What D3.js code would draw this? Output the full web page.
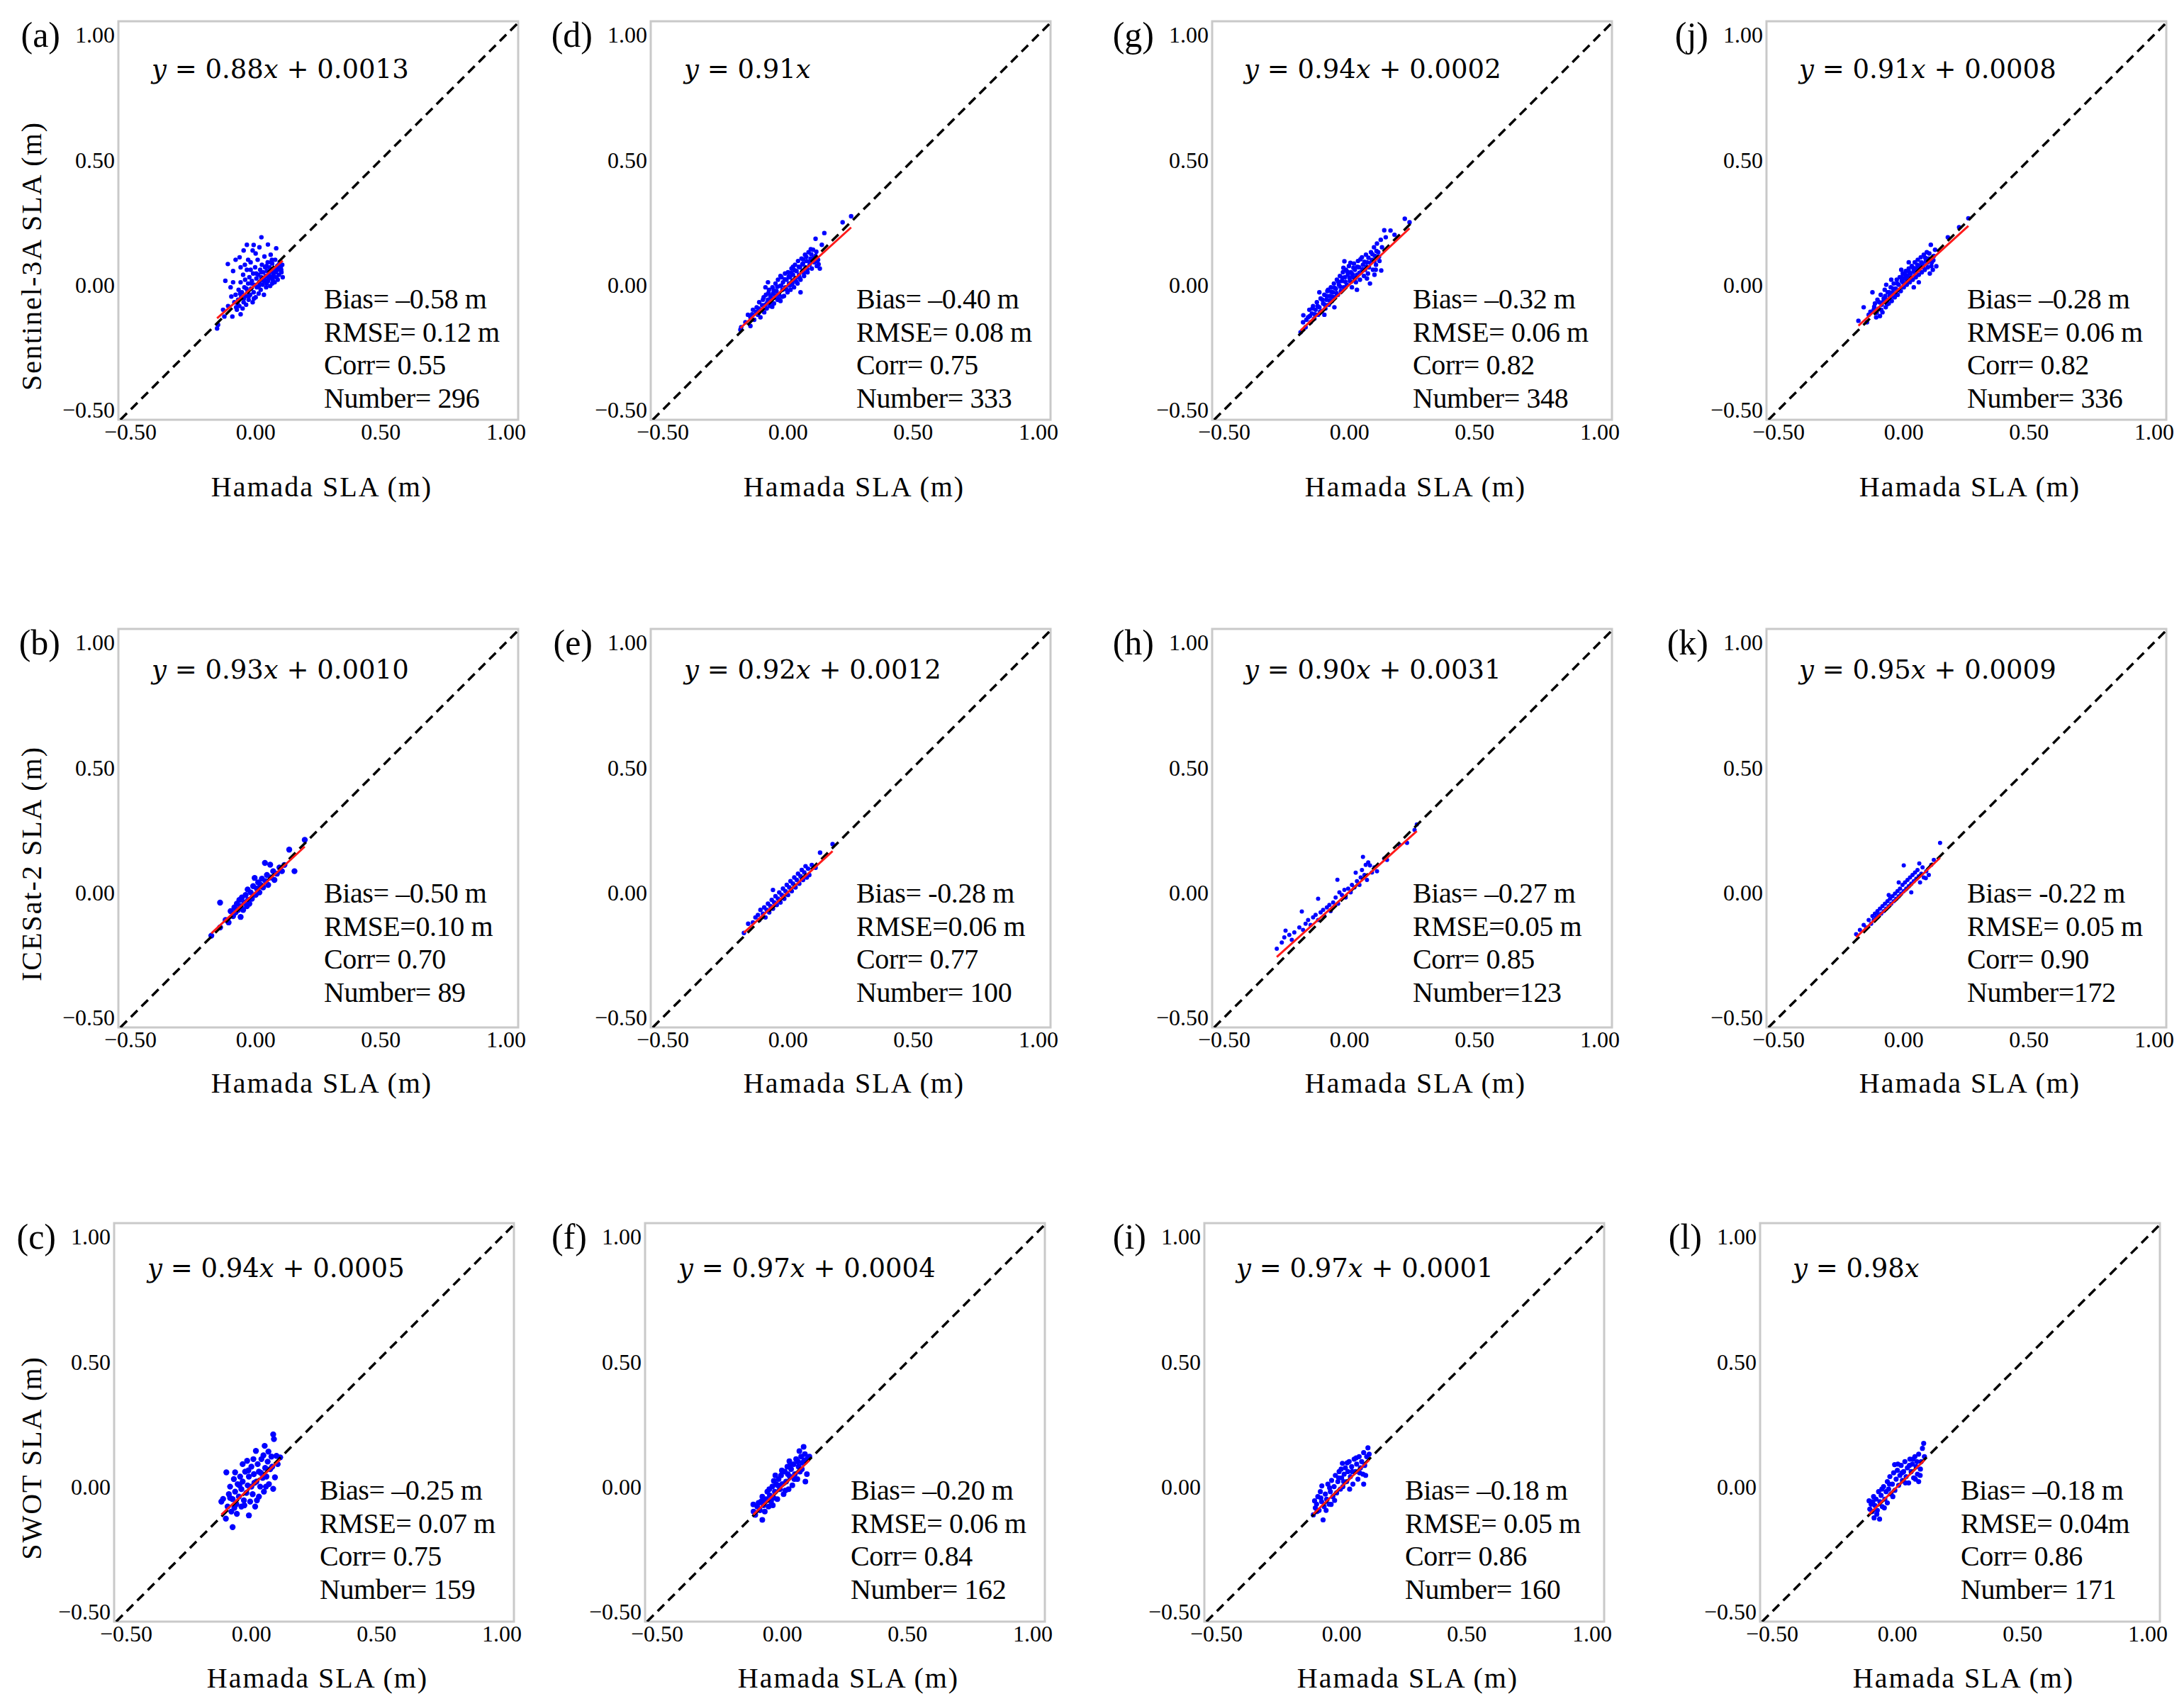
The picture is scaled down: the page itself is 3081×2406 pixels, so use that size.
<!DOCTYPE html>
<html>
<head>
<meta charset="utf-8">
<script src="https://cdn.jsdelivr.net/npm/d3@7"></script>
<style>
  body { margin: 0; background: #fff; }
  svg { display: block; }
</style>
</head>
<body>
<div id="graph_box"></div>
<script>
// panels are ordered a..l, three per column (rows: Sentinel-3A, ICESat-2, SWOT)
const panelIds = ['a', 'b', 'c', 'd', 'e', 'f', 'g', 'h', 'i', 'j', 'k', 'l'];
const yTitles = ['Sentinel-3A SLA (m)', 'ICESat-2 SLA (m)', 'SWOT SLA (m)'];
const xTitle = 'Hamada SLA (m)';
const tickValues = [-0.5, 0, 0.5, 1.0];

const slopes = [0.88, 0.93, 0.94, 0.91, 0.92, 0.97, 0.94, 0.90, 0.97, 0.91, 0.95, 0.98];
const intercepts = [0.0013, 0.0010, 0.0005, 0, 0.0012, 0.0004, 0.0002, 0.0031, 0.0001, 0.0008, 0.0009, 0];

const biasLabels = ['Bias= \u20130.58 m', 'Bias= \u20130.50 m', 'Bias= \u20130.25 m', 'Bias= \u20130.40 m', 'Bias= -0.28 m', 'Bias= \u20130.20 m',
    'Bias= \u20130.32 m', 'Bias= \u20130.27 m', 'Bias= \u20130.18 m', 'Bias= \u20130.28 m', 'Bias= -0.22 m', 'Bias= \u20130.18 m'];
const rmseLabels = ['RMSE= 0.12 m', 'RMSE=0.10 m', 'RMSE= 0.07 m', 'RMSE= 0.08 m', 'RMSE=0.06 m', 'RMSE= 0.06 m',
    'RMSE= 0.06 m', 'RMSE=0.05 m', 'RMSE= 0.05 m', 'RMSE= 0.06 m', 'RMSE= 0.05 m', 'RMSE= 0.04m'];
const corrLabels = ['Corr= 0.55', 'Corr= 0.70', 'Corr= 0.75', 'Corr= 0.75', 'Corr= 0.77', 'Corr= 0.84',
    'Corr= 0.82', 'Corr= 0.85', 'Corr= 0.86', 'Corr= 0.82', 'Corr= 0.90', 'Corr= 0.86'];
const numberLabels = ['Number= 296', 'Number= 89', 'Number= 159', 'Number= 333', 'Number= 100', 'Number= 162',
    'Number= 348', 'Number=123', 'Number= 160', 'Number= 336', 'Number=172', 'Number= 171'];

// [Hamada, satellite] pairs (a subset of the points)
const pointsA = [[-0.154,-0.175],[-0.150,-0.160],[-0.125,-0.127],[-0.093,-0.127],[-0.060,-0.118],[-0.078,-0.090],[-0.097,-0.047],
    [-0.121,0.016],[-0.111,0.083],[-0.064,0.110],[-0.048,0.137],[-0.008,0.159],[0.023,0.190],[0.049,0.161],[0.082,0.146],
    [0.035,0.113],[-0.012,0.137],[-0.043,0.080],[-0.085,-0.070],[-0.080,-0.040],[-0.075,-0.100],[-0.070,-0.060],[-0.068,-0.020],
    [-0.065,-0.085],[-0.060,0.010],[-0.058,-0.050],[-0.055,-0.030],[-0.052,-0.095],[-0.050,0.040],[-0.048,-0.070],[-0.045,-0.010],
    [-0.042,0.020],[-0.040,-0.045],[-0.038,-0.080],[-0.035,0.060],[-0.032,-0.025],[-0.030,0.005],[-0.028,-0.060],[-0.025,0.030],
    [-0.022,-0.040],[-0.020,0.090],[-0.018,-0.015],[-0.015,0.015],[-0.012,-0.070],[-0.010,0.045],[-0.008,-0.030],[-0.005,0.000],
    [-0.002,0.070],[0.000,-0.050],[0.003,0.025],[0.005,-0.010],[0.008,0.100],[0.010,0.040],[0.012,-0.035],[0.015,0.010],
    [0.018,0.060],[0.020,-0.020],[0.022,0.030],[0.025,0.080],[0.028,0.000],[0.030,0.050],[0.033,-0.040],[0.035,0.020],
    [0.038,0.070],[0.040,0.035],[0.042,-0.010],[0.045,0.055],[0.048,0.090],[0.050,0.015],[0.053,0.040],[0.055,0.070],
    [0.058,-0.005],[0.060,0.030],[0.063,0.055],[0.066,0.085],[0.068,0.020],[0.070,0.045],[0.073,0.065],[0.076,0.010],
    [0.078,0.100],[0.080,0.050],[0.083,0.030],[0.086,0.075],[0.090,0.060],[0.093,0.040],[0.096,0.090],[0.100,0.070],
    [0.103,0.050],[0.106,0.080],[0.108,0.030],[-0.090,0.055],[-0.030,0.100],[0.000,0.125],[0.060,0.120],[-0.100,-0.010],
    [-0.072,-0.075],[-0.062,-0.035],[-0.047,-0.055],[-0.037,-0.015],[-0.027,-0.045],[-0.017,0.005],[-0.007,-0.055],[0.002,0.045],
    [0.013,-0.005],[0.023,0.050],[0.032,0.015],[0.043,0.075],[0.052,0.025],[0.062,0.090],[0.072,0.035],[0.082,0.060],
    [0.092,0.080],[0.102,0.060],[0.088,0.020],[0.066,0.005],[0.044,0.005],[-0.020,0.060],[-0.060,0.070],[-0.080,0.100],
    [0.015,0.150],[-0.035,0.160],[0.065,0.100],[-0.110,-0.085],[-0.130,-0.100],[-0.090,0.010]];

const pointsB = [[-0.177,-0.173],[-0.142,-0.140],[-0.142,-0.041],[-0.120,-0.110],[-0.108,-0.120],[-0.100,-0.075],[-0.090,-0.095],
    [-0.085,-0.060],[-0.080,-0.080],[-0.075,-0.045],[-0.070,-0.070],[-0.065,-0.030],[-0.060,-0.098],[-0.060,-0.055],[-0.055,-0.020],
    [-0.050,-0.070],[-0.045,-0.040],[-0.040,-0.010],[-0.035,-0.055],[-0.032,0.012],[-0.030,-0.030],[-0.025,-0.045],[-0.020,0.000],
    [-0.015,-0.025],[-0.010,0.025],[-0.004,0.058],[0.000,-0.010],[0.005,0.015],[0.010,0.040],[0.015,0.000],[0.020,0.030],
    [0.025,0.055],[0.030,0.020],[0.037,0.118],[0.040,0.045],[0.045,0.070],[0.050,0.030],[0.058,0.111],[0.060,0.060],
    [0.070,0.085],[0.075,0.050],[0.085,0.075],[0.095,0.100],[0.105,0.085],[0.115,0.110],[0.134,0.171],[0.155,0.085],[0.196,0.210]];

const pointsC = [[-0.120,-0.060],[-0.113,-0.049],[-0.102,-0.128],[-0.100,0.057],[-0.095,-0.080],[-0.090,-0.030],[-0.085,0.000],
    [-0.080,-0.100],[-0.075,-0.162],[-0.075,-0.050],[-0.070,0.030],[-0.065,0.057],[-0.065,-0.020],[-0.060,-0.070],[-0.058,-0.109],
    [-0.055,0.010],[-0.050,-0.040],[-0.045,0.040],[-0.040,-0.080],[-0.040,-0.010],[-0.035,0.020],[-0.030,-0.055],[-0.025,0.060],
    [-0.020,-0.025],[-0.017,0.103],[-0.015,0.005],[-0.010,-0.115],[-0.010,0.040],[-0.005,-0.060],[0.000,0.080],[0.000,0.000],
    [0.005,-0.030],[0.010,0.050],[0.015,-0.080],[0.018,0.143],[0.020,0.020],[0.025,0.090],[0.030,-0.040],[0.030,0.060],
    [0.035,0.000],[0.040,0.110],[0.045,0.035],[0.050,-0.020],[0.053,0.163],[0.055,0.075],[0.060,0.040],[0.065,0.100],
    [0.070,0.010],[0.075,0.070],[0.080,0.120],[0.087,0.209],[0.087,-0.009],[0.090,0.190],[0.094,0.037],[0.100,0.123],
    [0.105,0.090],[0.115,0.117],[-0.068,-0.085],[-0.048,0.005],[-0.028,-0.075],[-0.012,0.065],[0.008,0.110],[0.022,-0.055],
    [0.038,0.055],[0.058,0.000],[0.068,0.140],[0.083,0.080],[-0.085,-0.045],[0.012,0.015],[-0.035,0.090],[0.048,0.125]];

const pointsD = [[-0.190,-0.180],[-0.170,-0.150],[-0.160,-0.120],[-0.150,-0.165],[-0.140,-0.100],[-0.135,-0.140],[-0.125,-0.090],
    [-0.120,-0.120],[-0.115,-0.070],[-0.110,-0.130],[-0.105,-0.100],[-0.100,-0.060],[-0.095,-0.110],[-0.090,-0.080],[-0.088,-0.040],
    [-0.085,-0.095],[-0.080,-0.060],[-0.076,-0.020],[-0.072,-0.085],[-0.070,-0.045],[-0.066,-0.070],[-0.062,-0.010],[-0.060,-0.035],
    [-0.056,-0.075],[-0.052,-0.050],[-0.050,0.005],[-0.046,-0.025],[-0.042,-0.060],[-0.040,0.020],[-0.036,-0.040],[-0.032,-0.005],
    [-0.030,-0.065],[-0.026,0.030],[-0.022,-0.020],[-0.020,0.010],[-0.016,-0.045],[-0.012,0.045],[-0.010,-0.010],[-0.006,0.020],
    [-0.002,-0.030],[0.000,0.050],[0.004,0.005],[0.008,0.030],[0.010,-0.020],[0.014,0.065],[0.018,0.015],[0.020,0.040],
    [0.024,-0.010],[0.028,0.080],[0.030,0.025],[0.034,0.055],[0.038,0.005],[0.040,0.095],[0.044,0.040],[0.048,0.070],
    [0.050,0.020],[0.054,0.105],[0.058,0.055],[0.060,0.085],[0.064,0.035],[0.068,0.120],[0.070,0.070],[0.074,0.095],
    [0.078,0.050],[0.082,0.130],[0.086,0.080],[0.090,0.105],[0.095,0.065],[0.100,0.140],[0.105,0.090],[0.110,0.115],
    [0.115,0.075],[0.120,0.100],[0.127,0.065],[0.091,0.142],[0.110,0.184],[0.145,0.207],[0.218,0.250],[0.252,0.274],
    [0.135,0.160],[-0.187,-0.170],[-0.080,0.010],[0.050,-0.030],
    [-0.150,-0.130],[-0.143,-0.118],[-0.128,-0.108],[-0.117,-0.095],[-0.103,-0.082],[-0.097,-0.050],[-0.083,-0.072],[-0.078,-0.033],
    [-0.068,-0.052],[-0.063,-0.088],[-0.057,-0.022],[-0.047,-0.042],[-0.043,-0.008],[-0.037,-0.058],[-0.027,-0.003],[-0.023,-0.048],
    [-0.013,0.022],[-0.007,-0.018],[0.003,0.033],[0.007,-0.003],[0.013,0.048],[0.017,0.003],[0.027,0.058],[0.033,0.012],
    [0.043,0.072],[0.047,0.027],[0.057,0.082],[0.063,0.048],[0.073,0.112],[0.077,0.062],[0.087,0.092],[0.093,0.122],
    [0.103,0.108],[0.113,0.132],[0.117,0.095],[0.122,0.082],[0.060,0.102],[0.020,0.072],[-0.030,0.035],[-0.090,-0.010]];

const pointsE = [[-0.176,-0.162],[-0.159,-0.125],[-0.140,-0.120],[-0.130,-0.100],[-0.120,-0.090],[-0.115,-0.110],[-0.110,-0.070],
    [-0.100,-0.085],[-0.095,-0.060],[-0.090,-0.100],[-0.085,-0.070],[-0.080,-0.045],[-0.075,-0.080],[-0.070,-0.055],[-0.065,-0.030],
    [-0.060,-0.065],[-0.055,-0.040],[-0.050,-0.015],[-0.045,-0.050],[-0.040,-0.025],[-0.035,0.000],[-0.030,-0.040],[-0.025,-0.010],
    [-0.020,0.015],[-0.015,-0.025],[-0.010,0.005],[-0.005,0.030],[0.000,-0.010],[0.005,0.020],[0.010,0.045],[0.015,0.005],
    [0.020,0.035],[0.025,0.060],[0.030,0.020],[0.035,0.050],[0.040,0.075],[0.045,0.035],[0.050,0.065],[0.055,0.090],
    [0.060,0.050],[0.065,0.080],[0.070,0.105],[0.075,0.060],[0.085,0.070],[0.080,0.095],[0.095,0.110],[0.110,0.099],
    [0.128,0.159],[0.178,0.193],[-0.060,0.010]];

const pointsF = [[-0.116,-0.071],[-0.115,-0.100],[-0.108,-0.113],[-0.100,-0.080],[-0.090,-0.095],[-0.085,-0.060],[-0.080,-0.133],
    [-0.080,-0.040],[-0.075,-0.075],[-0.070,-0.100],[-0.065,-0.050],[-0.060,-0.020],[-0.055,-0.080],[-0.050,-0.035],[-0.045,-0.060],
    [-0.040,0.000],[-0.035,-0.045],[-0.034,0.023],[-0.030,-0.020],[-0.025,0.010],[-0.020,-0.050],[-0.015,0.030],[-0.010,-0.010],
    [-0.005,0.045],[0.000,0.010],[0.005,-0.030],[0.010,0.060],[0.015,0.020],[0.020,0.080],[0.025,-0.010],[0.028,0.102],
    [0.030,0.040],[0.035,0.070],[0.040,0.005],[0.045,0.090],[0.050,0.050],[0.055,0.110],[0.060,0.030],[0.065,0.080],
    [0.068,0.142],[0.070,0.060],[0.075,0.120],[0.080,0.095],[0.085,0.159],[0.090,0.130],[0.092,0.020],[0.098,0.050],
    [0.100,0.110],[0.108,0.120],[-0.095,-0.065],[-0.072,-0.055],[-0.052,-0.010],[-0.038,-0.075],[-0.018,0.005],[-0.002,0.065],
    [0.012,-0.015],[0.032,0.088],[0.048,0.030],[0.062,0.100],[0.078,0.070],[0.088,0.105],[0.022,0.050],[-0.028,0.045]];

const pointsG = [[-0.195,-0.190],[-0.185,-0.150],[-0.184,-0.122],[-0.175,-0.170],[-0.165,-0.130],[-0.160,-0.100],[-0.155,-0.150],
    [-0.150,-0.115],[-0.145,-0.085],[-0.140,-0.135],[-0.135,-0.100],[-0.130,-0.070],[-0.125,-0.120],[-0.120,-0.090],[-0.115,-0.055],
    [-0.110,-0.105],[-0.105,-0.075],[-0.100,-0.040],[-0.096,-0.095],[-0.092,-0.060],[-0.088,-0.025],[-0.085,-0.020],[-0.082,-0.080],
    [-0.078,-0.045],[-0.074,-0.010],[-0.070,-0.065],[-0.066,-0.030],[-0.062,0.005],[-0.058,-0.050],[-0.054,-0.015],[-0.050,0.020],
    [-0.046,-0.040],[-0.042,0.000],[-0.038,0.035],[-0.034,-0.025],[-0.030,0.015],[-0.026,0.050],[-0.022,-0.010],[-0.020,0.094],
    [-0.018,0.030],[-0.014,0.060],[-0.010,0.000],[-0.006,0.040],[-0.002,0.075],[0.002,0.015],[0.006,0.050],[0.010,-0.010],
    [0.014,0.030],[0.018,0.085],[0.022,0.060],[0.026,0.010],[0.030,0.040],[0.034,0.095],[0.038,0.070],[0.042,0.020],
    [0.046,0.050],[0.050,0.110],[0.054,0.080],[0.058,0.035],[0.062,0.060],[0.066,0.120],[0.070,0.090],[0.074,0.045],
    [0.078,0.070],[0.082,0.005],[0.086,0.130],[0.090,0.100],[0.094,0.060],[0.098,0.150],[0.102,0.115],[0.106,0.080],
    [0.110,0.165],[0.115,0.130],[0.120,0.095],[0.127,0.057],[0.125,0.180],[0.130,0.150],[0.139,0.218],[0.145,0.190],
    [0.164,0.217],[0.180,0.200],[0.221,0.264],[0.240,0.250],[-0.060,-0.090],[0.030,-0.020],[-0.120,-0.030],[0.100,0.040],
    [-0.172,-0.140],[-0.158,-0.125],[-0.148,-0.095],[-0.138,-0.118],[-0.127,-0.085],[-0.117,-0.108],[-0.108,-0.060],[-0.098,-0.080],
    [-0.090,-0.045],[-0.080,-0.062],[-0.072,-0.028],[-0.068,-0.048],[-0.060,-0.012],[-0.052,-0.033],[-0.044,0.012],[-0.036,-0.008],
    [-0.028,0.028],[-0.024,0.068],[-0.016,0.012],[-0.008,0.052],[0.000,0.028],[0.004,0.088],[0.012,0.042],[0.016,0.068],
    [0.024,0.028],[0.032,0.072],[0.040,0.048],[0.044,0.102],[0.052,0.062],[0.060,0.092],[0.068,0.072],[0.076,0.108],
    [0.084,0.088],[0.092,0.122],[0.100,0.095],[0.108,0.135],[0.118,0.112],[0.105,0.060],[0.070,0.025],[-0.100,-0.120]];

const pointsH = [[-0.290,-0.225],[-0.270,-0.200],[-0.260,-0.180],[-0.255,-0.153],[-0.240,-0.170],[-0.230,-0.190],[-0.220,-0.160],
    [-0.200,-0.140],[-0.190,-0.076],[-0.185,-0.150],[-0.175,-0.125],[-0.165,-0.110],[-0.155,-0.130],[-0.145,-0.100],[-0.135,-0.090],
    [-0.125,-0.025],[-0.125,-0.110],[-0.115,-0.080],[-0.105,-0.070],[-0.100,-0.095],[-0.090,-0.060],[-0.080,-0.050],[-0.075,-0.075],
    [-0.065,-0.040],[-0.055,-0.020],[-0.048,0.051],[-0.045,-0.045],[-0.040,0.000],[-0.030,-0.010],[-0.020,0.010],[-0.015,-0.020],
    [-0.005,0.015],[0.005,0.000],[0.010,0.030],[0.020,0.020],[0.025,0.079],[0.030,0.045],[0.040,0.030],[0.045,0.060],
    [0.050,0.090],[0.054,0.142],[0.060,0.070],[0.065,0.110],[0.070,0.050],[0.075,0.120],[0.082,0.108],[0.090,0.080],
    [0.100,0.100],[0.110,0.085],[0.139,0.136],[0.150,0.130],[0.200,0.190],[0.230,0.198],[0.260,0.250],[0.269,0.272]];

const pointsI = [[-0.113,-0.113],[-0.108,-0.057],[-0.105,-0.085],[-0.100,-0.070],[-0.095,-0.040],[-0.090,-0.095],[-0.085,-0.020],
    [-0.080,-0.060],[-0.079,0.003],[-0.074,-0.133],[-0.070,-0.080],[-0.065,-0.030],[-0.060,-0.050],[-0.055,0.010],[-0.050,-0.070],
    [-0.045,-0.020],[-0.042,-0.071],[-0.040,0.025],[-0.035,-0.040],[-0.030,0.000],[-0.025,0.045],[-0.020,-0.025],[-0.015,0.020],
    [-0.010,0.060],[-0.005,-0.010],[0.000,0.035],[0.003,0.093],[0.005,0.000],[0.010,0.050],[0.015,0.075],[0.020,0.020],
    [0.025,0.060],[0.030,0.100],[0.035,0.040],[0.040,0.080],[0.045,0.010],[0.050,0.110],[0.055,0.060],[0.060,0.090],
    [0.065,0.030],[0.070,0.120],[0.075,0.075],[0.080,0.100],[0.085,0.050],[0.088,0.136],[0.088,0.010],[0.096,0.045],
    [0.100,0.120],[0.105,0.155],[0.110,0.130],[-0.098,-0.100],[-0.083,-0.045],[-0.062,-0.095],[-0.048,-0.005],[-0.028,-0.055],
    [-0.012,0.035],[0.008,0.020],[0.022,0.095],[0.042,0.060],[0.058,0.115],[0.072,0.055],[0.092,0.085],[0.032,-0.010],[-0.002,0.070]];

const pointsJ = [[-0.181,-0.144],[-0.160,-0.090],[-0.147,-0.150],[-0.140,-0.120],[-0.125,-0.030],[-0.120,-0.100],[-0.115,-0.075],
    [-0.110,-0.130],[-0.105,-0.060],[-0.100,-0.095],[-0.095,-0.125],[-0.092,-0.040],[-0.088,-0.080],[-0.085,-0.110],[-0.080,-0.055],
    [-0.076,-0.020],[-0.072,-0.090],[-0.068,-0.060],[-0.064,-0.030],[-0.060,-0.075],[-0.056,-0.045],[-0.052,-0.010],[-0.048,-0.065],
    [-0.044,-0.030],[-0.040,0.005],[-0.036,-0.050],[-0.032,-0.015],[-0.028,0.020],[-0.024,-0.040],[-0.020,0.000],[-0.016,0.030],
    [-0.012,-0.025],[-0.008,0.015],[-0.004,0.045],[0.000,-0.010],[0.004,0.025],[0.008,0.055],[0.012,0.000],[0.016,0.035],
    [0.020,0.065],[0.024,0.010],[0.028,0.045],[0.032,0.075],[0.036,0.020],[0.040,0.055],[0.044,0.090],[0.048,0.030],
    [0.052,0.065],[0.056,0.100],[0.060,0.040],[0.064,0.075],[0.068,0.110],[0.072,0.050],[0.076,0.085],[0.080,0.120],
    [0.084,0.060],[0.088,0.095],[0.092,0.130],[0.096,0.070],[0.100,0.105],[0.104,0.045],[0.108,0.160],[0.112,0.090],
    [0.116,0.060],[0.120,0.115],[0.130,0.074],[0.176,0.190],[0.221,0.230],[0.258,0.266],[-0.010,0.060],[0.040,-0.010],[-0.070,0.000],
    [-0.133,-0.108],[-0.118,-0.088],[-0.108,-0.112],[-0.098,-0.070],[-0.090,-0.100],[-0.082,-0.068],[-0.074,-0.045],[-0.066,-0.078],
    [-0.058,-0.030],[-0.050,-0.048],[-0.042,-0.015],[-0.034,-0.035],[-0.026,0.005],[-0.018,-0.022],[-0.010,0.030],[-0.002,0.008],
    [0.006,0.040],[0.014,0.018],[0.022,0.050],[0.030,0.028],[0.038,0.068],[0.046,0.048],[0.054,0.080],[0.062,0.060],
    [0.070,0.090],[0.078,0.070],[0.086,0.108],[0.094,0.088],[0.102,0.125],[0.110,0.075],[0.118,0.098],[0.125,0.140],
    [0.020,0.090],[-0.050,0.020],[0.060,0.010]];

const pointsK = [[-0.190,-0.167],[-0.175,-0.150],[-0.160,-0.130],[-0.150,-0.140],[-0.140,-0.110],[-0.130,-0.125],[-0.125,-0.095],
    [-0.120,-0.110],[-0.115,-0.085],[-0.110,-0.100],[-0.105,-0.075],[-0.100,-0.090],[-0.095,-0.065],[-0.090,-0.085],[-0.085,-0.055],
    [-0.080,-0.075],[-0.075,-0.045],[-0.070,-0.065],[-0.065,-0.035],[-0.060,-0.055],[-0.055,-0.025],[-0.050,-0.045],[-0.045,-0.015],
    [-0.040,-0.035],[-0.035,-0.005],[-0.030,-0.025],[-0.025,0.005],[-0.020,-0.015],[-0.015,0.015],[-0.010,-0.005],[-0.005,0.030],
    [0.000,0.005],[0.000,0.108],[0.005,0.040],[0.010,0.015],[0.015,0.050],[0.020,0.025],[0.025,0.060],[0.030,0.035],
    [0.035,0.070],[0.040,0.045],[0.045,0.080],[0.050,0.055],[0.055,0.090],[0.060,0.065],[0.062,0.116],[0.065,0.040],
    [0.070,0.075],[0.075,0.100],[0.080,0.060],[0.088,0.057],[0.090,0.085],[0.100,0.070],[0.110,0.110],[0.120,0.130],
    [0.145,0.198],[0.030,0.000],[-0.060,-0.010],[-0.020,0.040]];

const pointsL = [[-0.113,-0.057],[-0.110,-0.090],[-0.105,-0.070],[-0.100,-0.100],[-0.095,-0.040],[-0.093,-0.125],[-0.090,-0.075],
    [-0.085,-0.050],[-0.080,-0.095],[-0.075,-0.020],[-0.071,-0.130],[-0.070,-0.060],[-0.065,-0.035],[-0.060,-0.080],[-0.055,0.000],
    [-0.050,-0.050],[-0.045,-0.020],[-0.040,0.020],[-0.040,-0.065],[-0.035,-0.010],[-0.030,0.040],[-0.025,-0.030],[-0.020,0.010],
    [-0.015,0.055],[-0.011,0.088],[-0.010,-0.015],[-0.005,0.030],[0.000,0.065],[0.005,0.005],[0.010,0.045],[0.015,0.085],
    [0.020,0.025],[0.025,0.060],[0.030,0.100],[0.035,0.040],[0.040,0.075],[0.045,0.015],[0.050,0.110],[0.055,0.060],
    [0.060,0.090],[0.065,0.035],[0.070,0.120],[0.075,0.080],[0.080,0.050],[0.085,0.020],[0.085,0.130],[0.091,0.045],
    [0.095,0.100],[0.100,0.153],[0.105,0.173],[0.108,0.120],[-0.098,-0.060],[-0.082,-0.110],[-0.062,-0.010],[-0.052,-0.085],
    [-0.032,0.010],[-0.018,-0.040],[0.002,0.090],[0.018,0.055],[0.032,0.015],[0.048,0.085],[0.062,0.110],[0.078,0.100],
    [0.092,0.070],[0.072,0.030]];

const points = [pointsA, pointsB, pointsC, pointsD, pointsE, pointsF, pointsG, pointsH, pointsI, pointsJ, pointsK, pointsL];

// ---- layout (pixels) ----
const W = 3081, H = 2406;
const boxW = 564, boxH = 562;
const colLeft = [[167, 918, 1710, 2492], [167, 918, 1710, 2492], [161, 910, 1699, 2483]];
const rowTop = [30, 887, 1725];
const eqX = [47, 47, 45, 46];
const eqY = [80, 70, 76];
const statsX = [290, 290, 283, 283];
const statsY = [405, 386, 390];
const xTitleY = [108, 92, 93];
const dotR = [[3.2, 4.2, 4.2], [3.2, 3.2, 4.0], [3.2, 3.0, 3.6], [3.2, 3.0, 3.6]];

const serif = "'Liberation Serif', 'Times New Roman', serif";

const svg = d3.select("#graph_box")
    .append("svg")
    .attr("width", W)
    .attr("height", H)
    .style("background", "#fff");

const x = d3.scaleLinear().domain([-0.548, 1.048]).range([0, boxW]);
const y = d3.scaleLinear().domain([-0.54, 1.054]).range([boxH, 0]);
const line = d3.line().x(d => x(d[0])).y(d => y(d[1]));

const defs = svg.append("defs");
defs.append("clipPath").attr("id", "plotClip")
    .append("rect").attr("width", boxW).attr("height", boxH);

panelIds.forEach(function (id, p) {
    const col = Math.floor(p / 3), row = p % 3;
    const left = colLeft[row][col], top = rowTop[row];
    const g = svg.append("g").attr("transform", `translate(${left},${top})`);
    const pts = points[p];

    // frame
    g.append("rect")
        .attr("width", boxW).attr("height", boxH)
        .attr("fill", "none")
        .attr("stroke", "#c9c9c9")
        .attr("stroke-width", 3);

    const plot = g.append("g").attr("clip-path", "url(#plotClip)");

    plot.selectAll("circle")
        .data(pts)
        .enter()
        .append("circle")
        .attr("cx", d => x(d[0]))
        .attr("cy", d => y(d[1]))
        .attr("r", dotR[col][row])
        .attr("fill", "#0000ff");

    // 1:1 line
    const lo = Math.max(x.domain()[0], y.domain()[0]);
    const hi = Math.min(x.domain()[1], y.domain()[1]);
    plot.append("path")
        .attr("d", line([[lo, lo], [hi, hi]]))
        .attr("stroke", "#000")
        .attr("stroke-width", 3.5)
        .attr("stroke-dasharray", "13,8")
        .attr("fill", "none");

    // regression line over the range of the data
    const ext = d3.extent(pts, d => d[0]);
    plot.append("path")
        .attr("d", line(ext.map(v => [v, slopes[p] * v + intercepts[p]])))
        .attr("stroke", "#ff1a1a")
        .attr("stroke-width", 3)
        .attr("fill", "none");

    // axes (labels only, no tick marks)
    g.selectAll(".xt")
        .data(tickValues)
        .enter()
        .append("text")
        .attr("x", d => x(d))
        .attr("y", boxH + 28)
        .attr("text-anchor", "middle")
        .style("font-family", serif)
        .style("font-size", "32px")
        .text(d => d3.format(".2f")(d));

    g.selectAll(".yt")
        .data(tickValues)
        .enter()
        .append("text")
        .attr("x", -5)
        .attr("y", d => y(d))
        .attr("dy", "0.35em")
        .attr("text-anchor", "end")
        .style("font-family", serif)
        .style("font-size", "32px")
        .text(d => d3.format(".2f")(d));

    // panel letter
    g.append("text")
        .attr("x", -82)
        .attr("y", y(1) + 17)
        .attr("text-anchor", "end")
        .style("font-family", serif)
        .style("font-size", "50px")
        .text(`(${id})`);

    // fitted equation
    const eq = g.append("text")
        .attr("x", eqX[col])
        .attr("y", eqY[row])
        .style("font-family", "'DejaVu Serif', serif")
        .style("font-size", "37px")
        .style("white-space", "pre");
    eq.append("tspan").style("font-style", "italic").text("y");
    eq.append("tspan").text(" = " + slopes[p].toFixed(2));
    eq.append("tspan").style("font-style", "italic").text("x");
    if (intercepts[p] !== 0) {
        eq.append("tspan").text(" + " + intercepts[p].toFixed(4));
    }

    // statistics
    const stats = [biasLabels[p], rmseLabels[p], corrLabels[p], numberLabels[p]];
    g.selectAll(".st")
        .data(stats)
        .enter()
        .append("text")
        .attr("x", statsX[col])
        .attr("y", (d, i) => statsY[row] + i * 46.5)
        .style("font-family", serif)
        .style("font-size", "40px")
        .style("letter-spacing", "-0.4px")
        .style("white-space", "pre")
        .text(d => d);

    // axis titles
    g.append("text")
        .attr("x", boxW / 2 + 5)
        .attr("y", boxH + xTitleY[row])
        .attr("text-anchor", "middle")
        .style("font-family", serif)
        .style("font-size", "40px")
        .style("letter-spacing", "2px")
        .text(xTitle);

    if (col === 0) {
        g.append("text")
            .attr("transform", `translate(${44 - left},${boxH / 2 + 50}) rotate(-90)`)
            .attr("dy", "0.35em")
            .attr("text-anchor", "middle")
            .style("font-family", serif)
            .style("font-size", "40px")
            .style("letter-spacing", "2px")
            .text(yTitles[row]);
    }
});
</script>
</body>
</html>
